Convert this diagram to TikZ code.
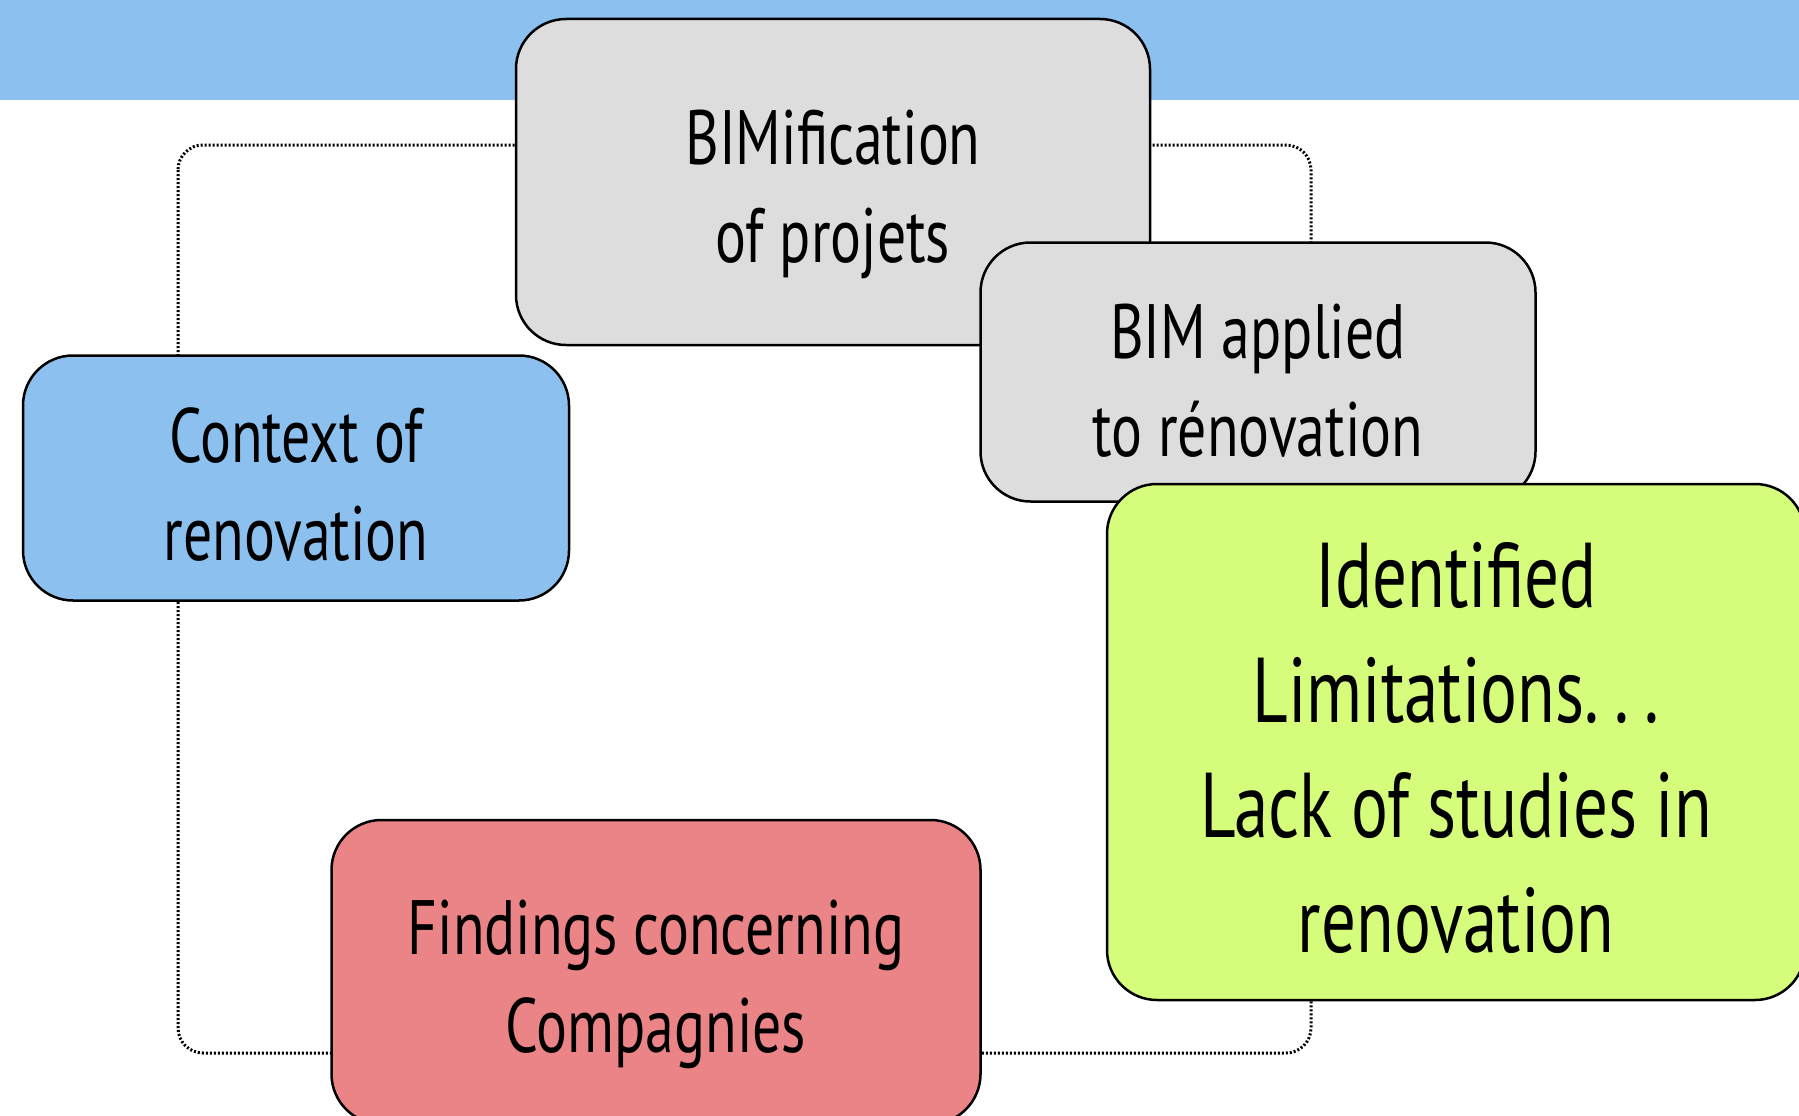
\documentclass[tikz,border=0pt]{standalone}
\usepackage{fontspec}
\setmainfont[FakeStretch=0.75]{PT Sans}
\definecolor{bandblue}{HTML}{8CC0EE}
\definecolor{boxgray}{HTML}{DDDDDD}
\definecolor{boxgreen}{HTML}{D5FC7A}
\definecolor{boxred}{HTML}{EA8487}
\tikzset{
  box/.style={draw=black, line width=2.5pt, rounded corners=50pt, inner sep=0pt},
  label text/.style={inner sep=0pt, align=center, text=black},
  midtext/.style={label text, font=\fontsize{77}{98}\selectfont},
  bigtext/.style={label text, font=\fontsize{92}{115}\selectfont},
  frame/.style={draw=black, line width=3pt, dash pattern=on 2pt off 2pt, rounded corners=25pt}
}
\begin{document}
\begin{tikzpicture}[x=1pt,y=-1pt]
\useasboundingbox (0,0) rectangle (1799,1116);
\fill[bandblue] (0,0) rectangle (1799,100);
\coordinate (f1) at (178,145);
\coordinate (f2) at (1311,1053);
\draw[frame] (f1) rectangle (f2);
\node[box, fill=bandblue, minimum width=546pt, minimum height=245pt] (ctx) at (296,478) {};
\node[midtext, yshift=-7pt] (ctxT) at (ctx.center) {Context of\\renovation};
\node[box, fill=boxgray, minimum width=634pt, minimum height=326pt] (bimf) at (833,182) {};
\node[midtext, yshift=-12pt] (bimfT) at (bimf.center) {BIMification\\of projets};
\node[box, fill=boxgray, minimum width=555pt, minimum height=259pt] (bima) at (1258,372) {};
\node[midtext, yshift=-9pt] (bimaT) at (bima.center) {BIM applied\\to rénovation};
\node[box, fill=boxgreen, minimum width=698pt, minimum height=516pt] (lim) at (1456,742) {};
\node[bigtext, yshift=-6pt] (limT) at (lim.center) {Identified\\Limitations.\,.\,.\\Lack of studies in\\renovation};
\node[box, fill=boxred, minimum width=649pt, minimum height=304pt] (find) at (656,972) {};
\node[midtext, yshift=-12pt] (findT) at (find.center) {Findings concerning\\Compagnies};
\end{tikzpicture}
\end{document}
